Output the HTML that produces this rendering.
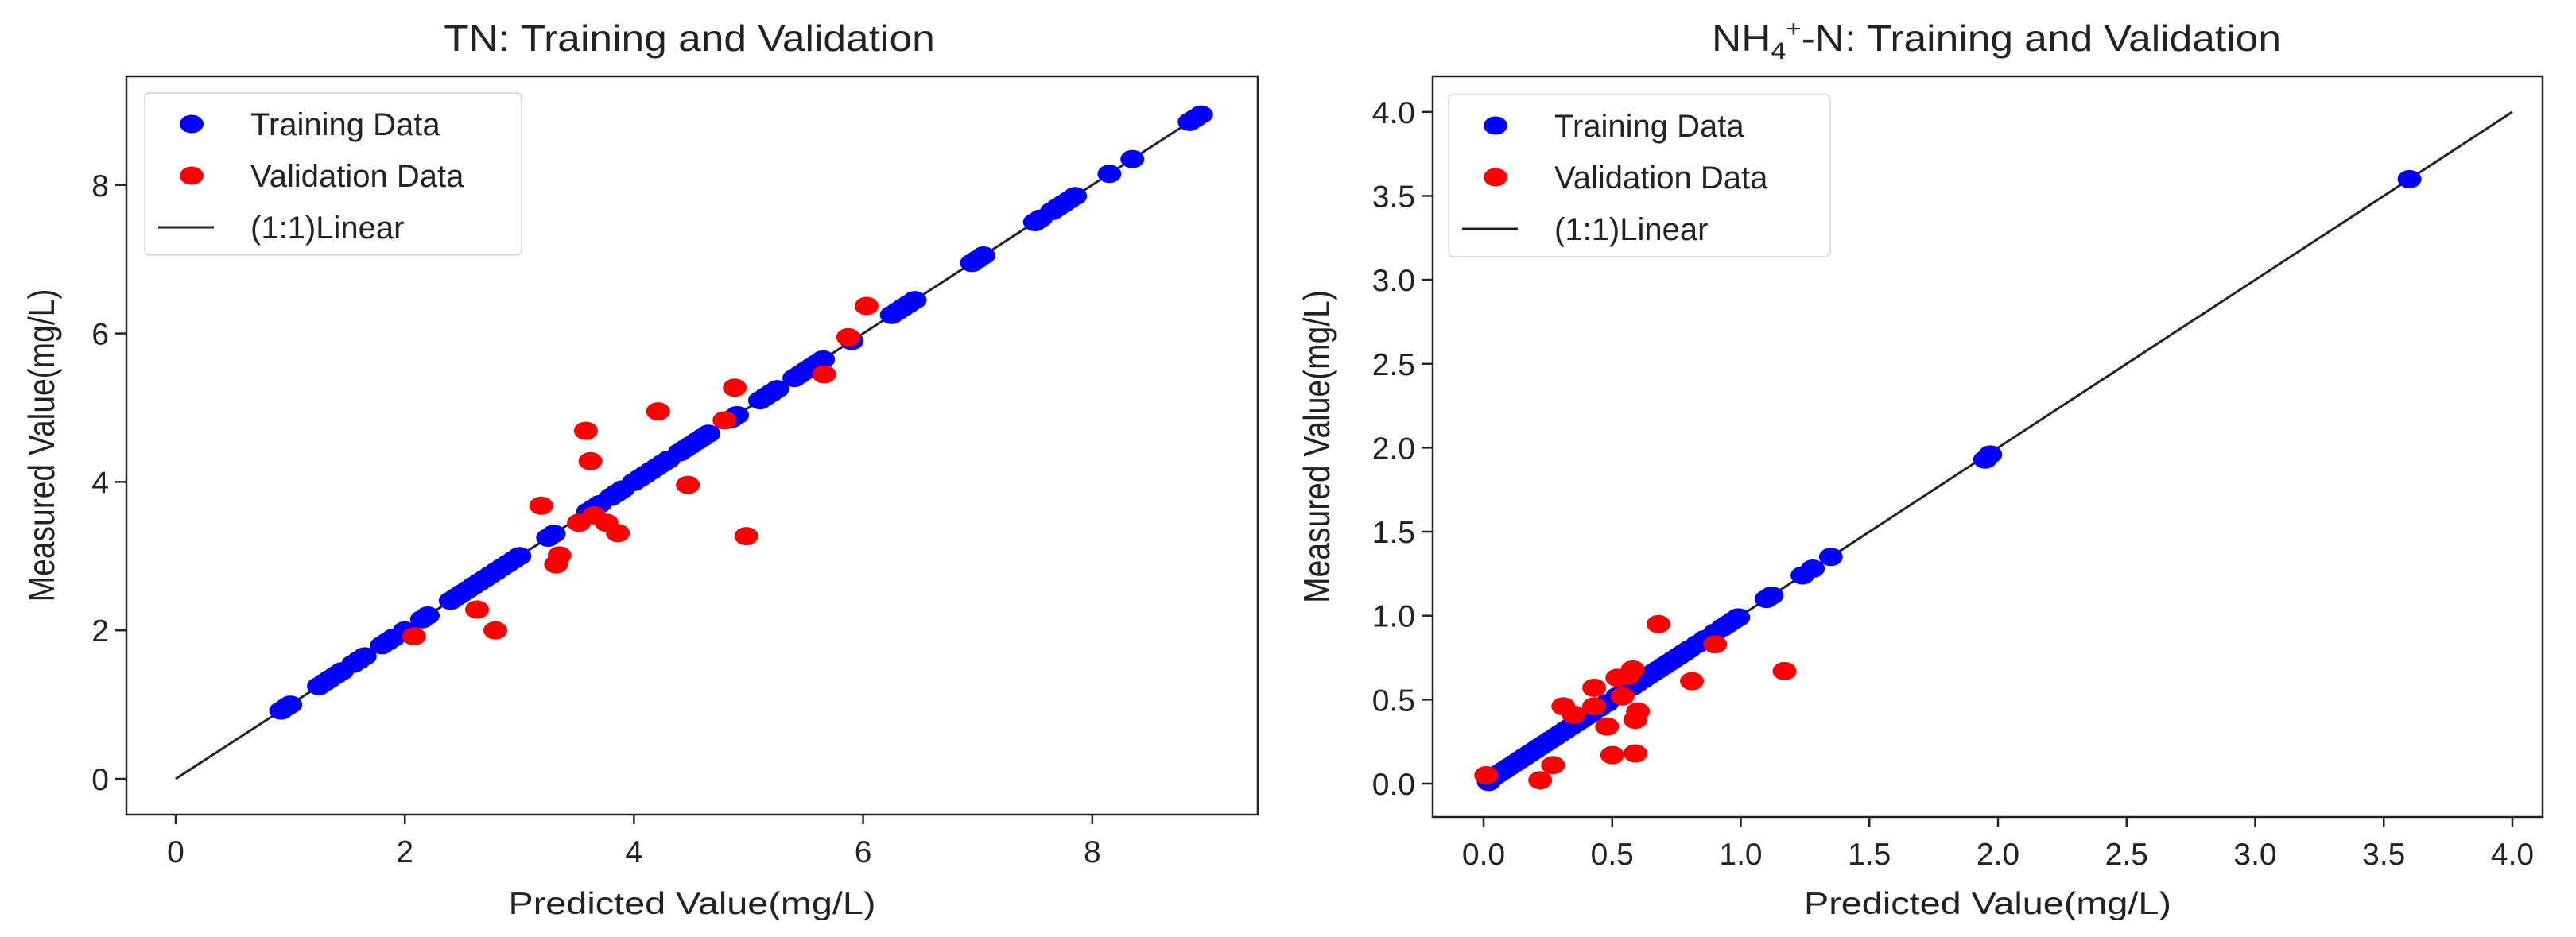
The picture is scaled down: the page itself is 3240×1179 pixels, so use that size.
<!DOCTYPE html>
<html><head><meta charset="utf-8"><style>
html,body{margin:0;padding:0;background:#fff}
svg{display:block}
text{font-family:"Liberation Sans","DejaVu Sans",sans-serif;fill:#222}
</style></head><body>
<svg id="fig" width="3240" height="1179" viewBox="0 0 3240 1179" xmlns="http://www.w3.org/2000/svg"></svg>
<script>
// ---- TN data ----
const tnTicks = [0, 2, 4, 6, 8];
const tnTrainX = [0.92,0.97,1.0,1.25,1.3,1.35,1.4,1.45,1.55,1.6,1.65,1.8,1.85,1.9,2.0,2.15,2.2,2.4,2.45,2.5,2.55,2.6,2.65,2.7,2.75,2.8,2.85,2.9,2.95,3.0,3.25,3.3,3.6,3.65,3.7,3.8,3.85,3.9,4.0,4.05,4.1,4.15,4.2,4.25,4.3,4.4,4.45,4.5,4.55,4.6,4.65,4.85,4.9,5.1,5.15,5.2,5.25,5.4,5.45,5.5,5.55,5.6,5.65,5.9,6.25,6.3,6.35,6.4,6.45,6.95,7.0,7.05,7.5,7.55,7.65,7.7,7.75,7.8,7.85,8.15,8.35,8.85,8.9,8.95];
const tnTrainY = [0.92,0.97,1.0,1.25,1.3,1.35,1.4,1.45,1.55,1.6,1.65,1.8,1.85,1.9,2.0,2.15,2.2,2.4,2.45,2.5,2.55,2.6,2.65,2.7,2.75,2.8,2.85,2.9,2.95,3.0,3.25,3.3,3.6,3.65,3.7,3.8,3.85,3.9,4.0,4.05,4.1,4.15,4.2,4.25,4.3,4.4,4.45,4.5,4.55,4.6,4.65,4.85,4.9,5.1,5.15,5.2,5.25,5.4,5.45,5.5,5.55,5.6,5.65,5.9,6.25,6.3,6.35,6.4,6.45,6.95,7.0,7.05,7.5,7.55,7.65,7.7,7.75,7.8,7.85,8.15,8.35,8.85,8.9,8.95];
const tnValX = [2.08,2.63,2.79,3.19,3.32,3.35,3.52,3.58,3.62,3.65,3.76,3.86,4.21,4.47,4.88,4.79,4.98,5.66,5.87,6.03];
const tnValY = [1.92,2.28,2.0,3.68,2.89,3.01,3.45,4.69,4.28,3.55,3.45,3.31,4.95,3.96,5.27,4.83,3.27,5.45,5.95,6.37];
const tnLine = [0, 8.9];
// ---- NH4 data ----
const nhTicks = [0.0,0.5,1.0,1.5,2.0,2.5,3.0,3.5,4.0];
const nhTickLabels = ["0.0","0.5","1.0","1.5","2.0","2.5","3.0","3.5","4.0"];
const nhTrainX = [0.02,0.04,0.06,0.08,0.1,0.12,0.14,0.16,0.18,0.2,0.22,0.24,0.26,0.28,0.3,0.32,0.34,0.36,0.38,0.4,0.42,0.45,0.48,0.52,0.55,0.58,0.6,0.62,0.64,0.66,0.68,0.7,0.72,0.74,0.76,0.78,0.8,0.83,0.86,0.9,0.93,0.95,0.97,0.99,1.1,1.12,1.24,1.28,1.35,1.95,1.97,3.6];
const nhTrainY = [0.01,0.04,0.06,0.08,0.1,0.12,0.14,0.16,0.18,0.2,0.22,0.24,0.26,0.28,0.3,0.32,0.34,0.36,0.38,0.4,0.42,0.45,0.48,0.52,0.55,0.58,0.6,0.62,0.64,0.66,0.68,0.7,0.72,0.74,0.76,0.78,0.8,0.83,0.86,0.9,0.93,0.95,0.97,0.99,1.1,1.12,1.24,1.28,1.35,1.93,1.96,3.6];
const nhValX = [0.01,0.22,0.27,0.31,0.35,0.43,0.43,0.48,0.5,0.52,0.54,0.56,0.58,0.59,0.6,0.59,0.68,0.81,0.9,1.17];
const nhValY = [0.05,0.02,0.11,0.46,0.41,0.46,0.57,0.34,0.17,0.63,0.52,0.64,0.68,0.38,0.43,0.18,0.95,0.61,0.83,0.67];
const nhLine = [0, 4.0];

const NS = "http://www.w3.org/2000/svg";
const svg = document.getElementById('fig');
function mk(tag, attrs, parent){ const e=document.createElementNS(NS,tag); for(const k in attrs) e.setAttribute(k,attrs[k]); (parent||svg).appendChild(e); return e; }
function txt(x,y,s,size,anchor,parent,sx){
  const t=mk('text',{'font-size':size,'text-anchor':anchor||'middle',transform:`translate(${x},${y}) scale(${sx||1},1)`},parent);
  t.textContent=s; return t;
}
function panel(cfg){
  const g=mk('g',{});
  
  
  const sx=v=>cfg.x0+(v-cfg.vmin)*cfg.pxX, sy=v=>cfg.y0-(v-cfg.vmin)*cfg.pxY;
  const tt=mk('text',{'font-size':46,'text-anchor':'middle',transform:`translate(${cfg.titleX},64) scale(1.12,1)`},g);
   
  tt.innerHTML=cfg.title;
  cfg.ticks.forEach((v,i)=>{
    const xx=sx(v);
    const l=mk('line',{x1:xx,x2:xx,y1:cfg.bottom,y2:cfg.bottom+12,stroke:'#222','stroke-width':2.5},g);
     
    const t=txt(xx,cfg.bottom+60,cfg.labels[i],39,'middle',g);
     
    const yy=sy(v);
    const l2=mk('line',{x1:cfg.left-14,x2:cfg.left,y1:yy,y2:yy,stroke:'#222','stroke-width':2.5},g);
     
    const t2=txt(cfg.left-22,yy+14,cfg.labels[i],39,'end',g);
     
  });
  const xl=txt((cfg.left+cfg.right)/2,1150,'Predicted Value(mg/L)',39,'middle',g,1.2);
   
  const yl=mk('text',{'font-size':39,'text-anchor':'middle',transform:`translate(${cfg.ylabX},${(cfg.top+cfg.bottom)/2}) rotate(-90) scale(1,1.2)`},g);
  yl.textContent='Measured Value(mg/L)';
   
  const ln=mk('line',{x1:sx(cfg.line[0]),y1:sy(cfg.line[0]),x2:sx(cfg.line[1]),y2:sy(cfg.line[1]),stroke:'#222','stroke-width':3},g);
   
  cfg.tx.forEach((v,i)=>{
    const c=mk('ellipse',{cx:sx(v),cy:sy(cfg.ty[i]),rx:15,ry:11.5,fill:'#0000ff'},g);
     
  });
  cfg.vx.forEach((v,i)=>{
    const c=mk('ellipse',{cx:sx(v),cy:sy(cfg.vy[i]),rx:15,ry:11.5,fill:'#ff0000'},g);
     
  });
  const fr=mk('rect',{x:cfg.left,y:cfg.top,width:cfg.right-cfg.left,height:cfg.bottom-cfg.top,fill:'none',stroke:'#222','stroke-width':2.5},g);
   
  const lg=mk('g',{},g);
   
  const L=cfg.leg;
  mk('rect',{x:L.x,y:L.y,width:L.w,height:204,rx:6,fill:'#fff','fill-opacity':0.85,stroke:'#ddd','stroke-width':2},lg);
  const items=[['Training Data','#0000ff'],['Validation Data','#ff0000'],['(1:1)Linear',null]];
  items.forEach((it,i)=>{
    const cy=L.y+39+i*65;
    const e=mk('g',{},lg);
     
    if(it[1]) mk('ellipse',{cx:L.x+59,cy:cy,rx:15,ry:11.5,fill:it[1]},e);
    else mk('line',{x1:L.x+17,x2:L.x+87,y1:cy,y2:cy,stroke:'#222','stroke-width':3},e);
    txt(L.x+133,cy+14,it[0],40,'start',e);
  });
}
panel({name:'tn-chart',title:'TN: Training and Validation',titleX:867,left:159,right:1582,top:96,bottom:1025,
  x0:221,y0:980,vmin:0,pxX:144.1,pxY:93.4,ticks:tnTicks,labels:tnTicks.map(String),
  tx:tnTrainX,ty:tnTrainY,vx:tnValX,vy:tnValY,line:tnLine,ylabX:68,leg:{x:182,y:117,w:474}});
panel({name:'nh4-chart',title:'NH<tspan font-size="30" dy="10">4</tspan><tspan font-size="30" dy="-28">+</tspan><tspan dy="18">-N: Training and Validation</tspan>',titleX:2511,left:1802,right:3198,top:96,bottom:1028,
  x0:1866,y0:986,vmin:0,pxX:323.5,pxY:211.3,ticks:nhTicks,labels:nhTickLabels,
  tx:nhTrainX,ty:nhTrainY,vx:nhValX,vy:nhValY,line:nhLine,ylabX:1672,leg:{x:1822,y:119,w:480}});
</script>
</body></html>
